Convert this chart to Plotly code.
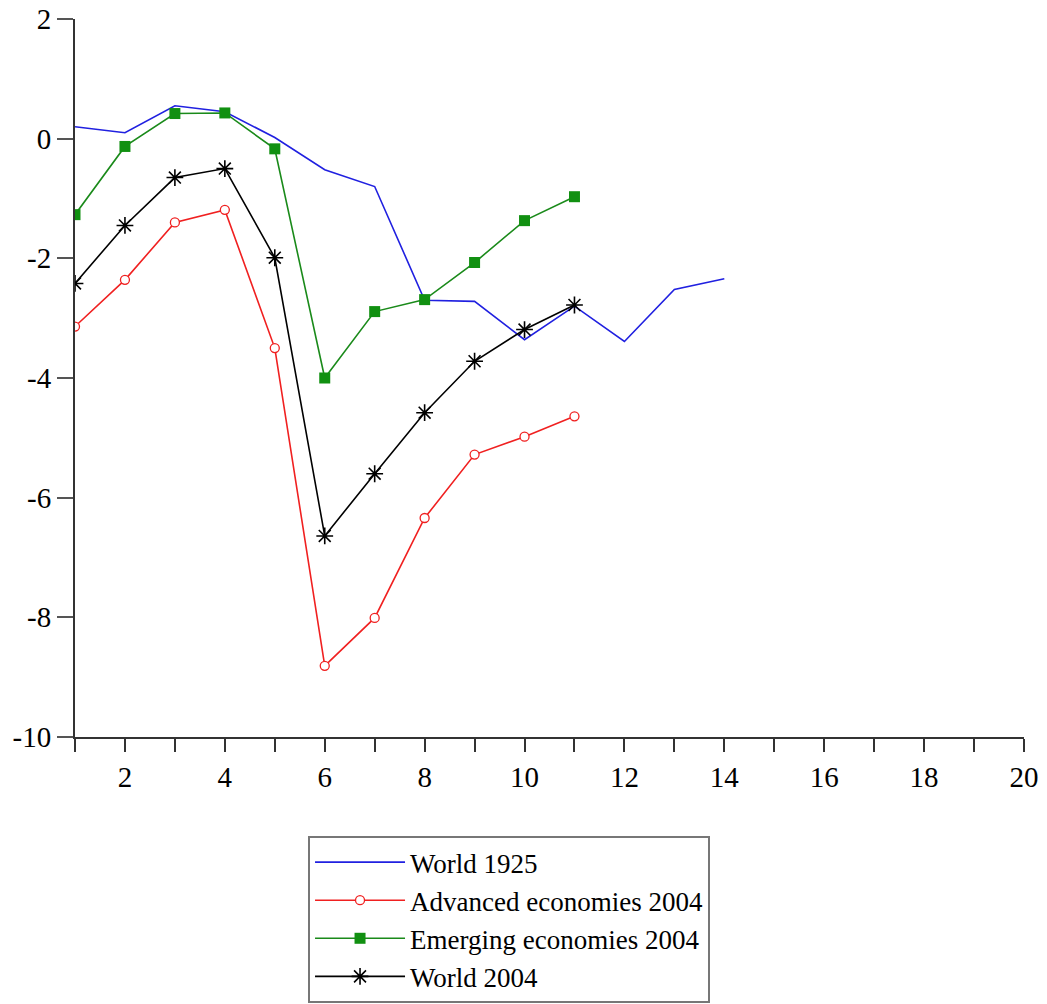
import plotly.graph_objects as go

x_1925 = list(range(1, 15))
world_1925 = [0.2, 0.1, 0.55, 0.45, 0.02, -0.52, -0.8, -2.7, -2.72, -3.36, -2.8, -3.39, -2.52, -2.34]

x_2004 = list(range(1, 12))
advanced_2004 = [-3.14, -2.36, -1.40, -1.19, -3.5, -8.81, -8.01, -6.34, -5.28, -4.98, -4.64]
emerging_2004 = [-1.27, -0.13, 0.42, 0.43, -0.17, -4.0, -2.89, -2.69, -2.07, -1.37, -0.97]
world_2004 = [-2.42, -1.45, -0.65, -0.50, -1.99, -6.64, -5.6, -4.58, -3.72, -3.19, -2.78]

x_ticks = list(range(1, 21))
x_ticktext = [str(v) if v % 2 == 0 else "" for v in x_ticks]
y_ticks = [2, 0, -2, -4, -6, -8, -10]
y_ticktext = ["2", "0", "-2", "-4", "-6", "-8", "-10"]

FONT = "Liberation Serif"

fig = go.Figure()
fig.add_trace(go.Scatter(x=x_1925, y=world_1925, mode="lines", name="World 1925",
                         line=dict(color="#2020e0", width=1.6)))
fig.add_trace(go.Scatter(x=x_2004, y=advanced_2004, mode="lines+markers", name="Advanced economies 2004",
                         line=dict(color="#f02020", width=1.6),
                         marker=dict(symbol="circle", size=9, color="white",
                                     line=dict(color="#f02020", width=1.3))))
fig.add_trace(go.Scatter(x=x_2004, y=emerging_2004, mode="lines+markers", name="Emerging economies 2004",
                         line=dict(color="#1a8a1a", width=1.6),
                         marker=dict(symbol="square", size=11, color="#119011",
                                     line=dict(color="#119011", width=0))))
fig.add_trace(go.Scatter(x=x_2004, y=world_2004, mode="lines+markers", name="World 2004",
                         line=dict(color="black", width=1.6),
                         marker=dict(symbol="asterisk-open", size=14, color="black",
                                     line=dict(color="black", width=1.6))))

fig.update_layout(
    width=1047, height=1004,
    margin=dict(l=75, r=23, t=19, b=267, autoexpand=False),
    paper_bgcolor="white", plot_bgcolor="white",
    font=dict(family=FONT, size=29, color="black"),
    showlegend=True,
    legend=dict(x=0.2942, y=0.1673, xref="container", yref="container",
                xanchor="left", yanchor="top",
                bordercolor="#777777", borderwidth=2, bgcolor="white",
                font=dict(family=FONT, size=27, color="black"),
                tracegroupgap=0, itemwidth=90),
    xaxis=dict(range=[1, 20], tickmode="array", tickvals=x_ticks, ticktext=x_ticktext,
               showline=True, linecolor="#333333", linewidth=2, ticks="outside",
               ticklen=13, tickwidth=2, tickcolor="#333333", showgrid=False, zeroline=False,
               automargin=False, tickfont=dict(family=FONT, size=29)),
    yaxis=dict(range=[-10, 2], tickmode="array", tickvals=y_ticks, ticktext=y_ticktext,
               showline=True, linecolor="#333333", linewidth=2, ticks="outside",
               ticklen=16, tickwidth=1.5, tickcolor="#555555", showgrid=False, zeroline=False,
               automargin=False, tickfont=dict(family=FONT, size=29)),
)

fig.write_html("out.html")
